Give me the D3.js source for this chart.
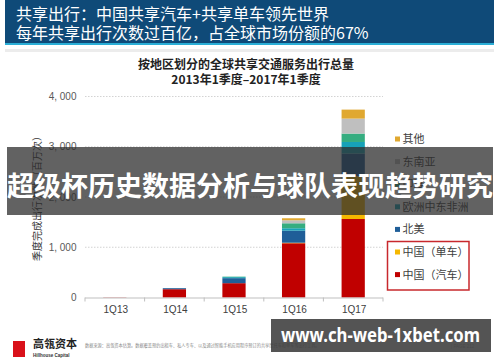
<!DOCTYPE html>
<html><head><meta charset="utf-8">
<script src="https://cdn.jsdelivr.net/npm/d3@7"></script>
<style>
html,body{margin:0;padding:0;background:#fff;}
svg{display:block;font-family:"Noto Sans CJK SC","Noto Sans",Arial,sans-serif;}
</style></head>
<body><svg id="c" width="500" height="362"></svg>
<script>
const categories = ["1Q13","1Q14","1Q15","1Q16","1Q17"];
const chinaCar     = [5, 165, 285, 1080, 1562];
const chinaBike    = [0, 0, 0, 10, 853];
const northAmerica = [0, 20, 100, 240, 450];
const emea         = [0, 0, 20, 48, 230];
const india        = [0, 0, 10, 99, 167];
const seAsia       = [0, 0, 0, 60, 298];
const other        = [0, 0, 0, 40, 179];
const seriesNames  = ["中国（汽车）","中国（单车）","北美","欧洲中东非洲","印度","东南亚","其他"];
const seriesColors = ["#c00000","#f5b800","#1f5e98","#17a2b8","#35ad80","#bfbfbf","#e0a830"];
const yTicks = [0, 1000, 2000, 3000, 4000];
const yTickLabels = ["0","1, 000","2, 000","3, 000","4, 000"];
const headerLines = ["共享出行：中国共享汽车+共享单车领先世界","每年共享出行次数过百亿，占全球市场份额的67%"];
const titleLines = ["按地区划分的全球共享交通服务出行总量","2013年1季度–2017年1季度"];
const yTitle = "季度完成出行次数（百万次）";
const bannerText = "超级杯历史数据分析与球队表现趋势研究";
const watermark = "www.ch-web-1xbet.com";
const footnote = "数据来源：高瓴资本估算。数据覆盖预约出租车、私人专车、以及通过智能手机应用程序预订的共享摩托车和单车等出行工具。";

const allSeries = [chinaCar, chinaBike, northAmerica, emea, india, seAsia, other];
const rows = categories.map((c,i)=>{const r={cat:c}; seriesNames.forEach((n,k)=>r[n]=allSeries[k][i]); return r;});
const stacked = d3.stack().keys(seriesNames)(rows);

const svg = d3.select("#c");

// header
svg.append("rect").attr("x",5).attr("y",0).attr("width",489).attr("height",43).attr("fill","#0f4a78");
svg.append("rect").attr("x",5).attr("y",43).attr("width",489).attr("height",2).attr("fill","#2aaed6");
svg.append("rect").attr("x",5).attr("y",49).attr("width",489).attr("height",3).attr("fill","#ececec");
headerLines.forEach((t,i)=>svg.append("text").attr("x",16).attr("y",19.5+i*19).attr("fill","#fff")
  .attr("font-size",16).text(t));

// chart title
titleLines.forEach((t,i)=>svg.append("text").attr("x",246).attr("y",69+i*14.5).attr("text-anchor","middle")
  .attr("font-size",12).attr("font-weight","bold").attr("fill","#222").text(t));

const x = d3.scaleBand().domain(categories).range([85,383]).paddingInner(0).paddingOuter(0);
const y = d3.scaleLinear().domain([0,4000]).range([297.5,96.5]);
const bw = x.bandwidth();

// grid
svg.append("g").selectAll("line").data(yTicks.filter(d=>d>0)).join("line")
  .attr("x1",85).attr("x2",383).attr("y1",d=>y(d)).attr("y2",d=>y(d))
  .attr("stroke","#c8c8c8").attr("stroke-width",0.8).attr("stroke-dasharray","1.5,1.5");

// y tick labels
svg.append("g").selectAll("text").data(yTicks).join("text")
  .attr("x",76.5).attr("y",d=>y(d)+3.5).attr("text-anchor","end")
  .attr("font-size",10).attr("font-family","Arial, 'Liberation Sans', sans-serif").attr("fill","#595959")
  .text((d,i)=>yTickLabels[i]);

// y title
svg.append("text").attr("transform","translate(41,196) rotate(-90)").attr("text-anchor","middle")
  .attr("font-size",10).attr("fill","#333").text(yTitle);

// bars
svg.append("g").selectAll("g").data(stacked).join("g")
  .attr("fill",(d,i)=>seriesColors[i])
  .selectAll("rect").data(d=>d).join("rect")
  .attr("x",d=>x(d.data.cat)+bw*0.305).attr("width",bw*0.39)
  .attr("y",d=>y(d[1])).attr("height",d=>Math.max(0,y(d[0])-y(d[1])));

// x axis
svg.append("line").attr("x1",85).attr("x2",383).attr("y1",y(0)+0.5).attr("y2",y(0)+0.5)
  .attr("stroke","#bfbfbf").attr("stroke-width",1);
const edges = categories.map(c=>x(c)).concat([x(categories[categories.length-1])+bw]);
svg.append("g").selectAll("line").data(edges).join("line")
  .attr("x1",d=>d).attr("x2",d=>d).attr("y1",y(0)).attr("y2",y(0)+4)
  .attr("stroke","#bfbfbf");
svg.append("g").selectAll("text").data(categories).join("text")
  .attr("x",d=>x(d)+bw/2+1).attr("y",313).attr("text-anchor","middle")
  .attr("font-size",10).attr("font-family","Arial, 'Liberation Sans', sans-serif").attr("fill","#404040").text(d=>d);

// legend
const legendOrder = seriesNames.map((n,i)=>i).reverse();
const lg = svg.append("g");
legendOrder.forEach((k,j)=>{
  const ly = 139 + j*22.6;
  lg.append("rect").attr("x",395).attr("y",ly-2.5).attr("width",5).attr("height",5).attr("fill",seriesColors[k]);
  lg.append("text").attr("x",402.5).attr("y",ly+4).attr("font-size",11).attr("fill","#404040").text(seriesNames[k]);
});
svg.append("rect").attr("x",387.5).attr("y",241.5).attr("width",81.5).attr("height",48.5)
  .attr("fill","none").attr("stroke","#c8282d").attr("stroke-width",1.5);

// footer
svg.append("rect").attr("x",13).attr("y",341).attr("width",12).attr("height",16).attr("fill","#d9111a");
svg.append("text").attr("x",33).attr("y",348).attr("font-size",11).attr("font-weight","bold").attr("fill","#222").text("高瓴资本");
svg.append("text").attr("x",33).attr("y",356.5).attr("font-size",4.5).attr("font-weight","bold").attr("fill","#333")
  .attr("font-family","Arial, sans-serif").text("Hillhouse Capital");
svg.append("text").attr("x",85).attr("y",347).attr("font-size",4.2).attr("fill","#888").text(footnote);
svg.append("text").attr("x",451).attr("y",348).attr("font-size",4.5).attr("fill","#aaa").attr("font-family","Arial, sans-serif").text("|  PAGE 212");

// banner overlay
svg.append("rect").attr("x",7).attr("y",147).attr("width",486).attr("height",68).attr("fill","rgba(45,45,45,0.75)");
svg.append("text").attr("x",250).attr("y",196).attr("text-anchor","middle").attr("font-size",27)
  .attr("font-weight","bold").attr("fill","#fff").text(bannerText);

// watermark
svg.append("rect").attr("x",271).attr("y",319).attr("width",220).attr("height",33).attr("fill","rgba(60,60,60,0.88)");
svg.append("text").attr("x",281).attr("y",342).attr("font-size",19)
  .attr("textLength",199).attr("lengthAdjust","spacingAndGlyphs")
  .attr("font-weight","bold").attr("font-family","'Noto Sans', 'DejaVu Sans', sans-serif").attr("fill","#fff").text(watermark);
</script></body></html>
